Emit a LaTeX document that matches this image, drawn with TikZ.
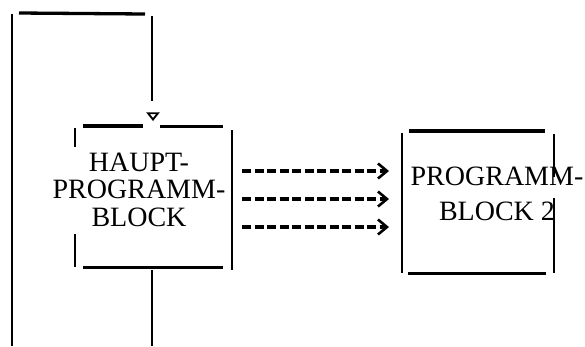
\documentclass[tikz,border=0pt]{standalone}
\usepackage{fontspec}
\setmainfont{Liberation Serif}
\usetikzlibrary{arrows.meta}
\begin{document}
\begin{tikzpicture}[x=1pt,y=-1pt,
  thinline/.style={line width=1.8pt},
  thickline/.style={line width=3.3pt},
  flow/.style={line width=3.1pt, dash pattern=on 9pt off 3.5pt,
    -{Straight Barb[length=9pt,width=15pt,line width=2.6pt,sep=4pt]}},
  blocktext/.style={font=\fontsize{28}{27.5}\selectfont, align=center, inner sep=0pt},
  blocktextb/.style={font=\fontsize{28}{35}\selectfont, align=center, inner sep=0pt}]
\useasboundingbox (0,0) rectangle (585,346);

% texts
\node[blocktext] (haupt) at (139,189.5) {HAUPT-\\PROGRAMM-\\BLOCK};
\node[blocktextb] (prog2) at (497,194) {PROGRAMM-\\BLOCK 2};

% box 1 outline
\draw[thickline] (83,126) -- (143,126);
\draw[thickline] (160,126.5) -- (223,126.5);
\draw[thinline] (75,128) -- (75,147);
\draw[thinline] (75,234) -- (75,267);
\draw[thinline] (232,130) -- (232,270);
\draw[thickline] (83,267.5) -- (223,267.5);

% box 2 outline
\draw[thinline] (402,133) -- (402,273);
\draw[thickline] (409,131) -- (545,131);
\draw[thinline] (554,134) -- (554,177);
\draw[thinline] (554,198) -- (554,273);
\draw[thickline] (408,273.5) -- (546,273.5);

% loop back connector
\coordinate (outb) at (152,270);
\coordinate (botend) at (152,346);
\coordinate (loopbot) at (12,346);
\coordinate (looptop) at (12,14);
\coordinate (topa) at (19,13);
\coordinate (topb) at (145,14);
\coordinate (downa) at (152,16);
\coordinate (downb) at (152,101);
\draw[thinline] (outb) -- (botend);
\draw[thinline] (loopbot) -- (looptop);
\draw[thickline] (topa) -- (topb);
\draw[thinline] (downa) -- (downb);
\draw[line width=1.8pt, line join=miter] (148,113.2) -- (158,113.2) -- (153,119.5) -- cycle;

% dashed connectors
\coordinate (a1) at (242,171);
\coordinate (a2) at (242,199);
\coordinate (a3) at (242,227);
\coordinate (b1) at (393,171);
\coordinate (b2) at (393,199);
\coordinate (b3) at (393,227);
\draw[flow] (a1) -- (b1);
\draw[flow] (a2) -- (b2);
\draw[flow] (a3) -- (b3);
\end{tikzpicture}
\end{document}
